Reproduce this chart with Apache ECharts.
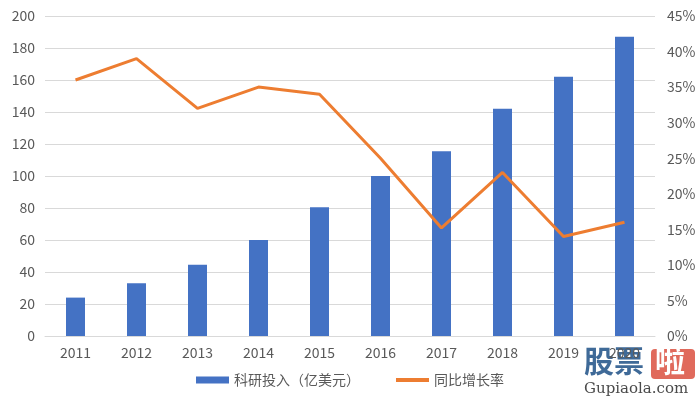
<!DOCTYPE html>
<html><head><meta charset="utf-8">
<script src="https://cdn.jsdelivr.net/npm/echarts@6/dist/echarts.min.js"></script>
<style>html,body{margin:0;padding:0;background:#fff}#c{width:700px;height:404px}</style>
</head><body><div id="c"></div>
<script>
var years = ['2011','2012','2013','2014','2015','2016','2017','2018','2019','2020'];
var investment = [24, 33, 44.5, 60, 80.5, 100, 115.5, 142, 162, 187];
var growth = [36, 39, 32, 35, 34, 25, 15.2, 23, 14, 16];
var barName = '科研投入（亿美元）';
var lineName = '同比增长率';
var font = '"Noto Sans CJK SC", "Noto Sans", sans-serif';
var chart = echarts.init(document.getElementById('c'));
chart.setOption({
  animation: false,
  textStyle: {fontFamily: font},
  grid: {left: 45, right: 45, top: 16, bottom: 68},
  legend: {
    bottom: 12, left: 'center', itemGap: 36, itemWidth: 33, itemHeight: 7,
    textStyle: {color: '#595959', fontSize: 14, fontFamily: font},
    data: [
      {name: barName, icon: 'rect'},
      {name: lineName, icon: 'path://M0,0 L33,0 L33,4 L0,4 Z', itemStyle: {color: '#ED7D31'}}
    ]
  },
  xAxis: {
    type: 'category', data: years,
    axisLine: {lineStyle: {color: '#d9d9d9'}},
    axisTick: {show: false},
    axisLabel: {color: '#595959', fontSize: 14, margin: 10}
  },
  yAxis: [{
    type: 'value', min: 0, max: 200, interval: 20,
    axisLine: {show: false}, axisTick: {show: false},
    axisLabel: {color: '#595959', fontSize: 14, margin: 10},
    splitLine: {lineStyle: {color: '#d9d9d9', width: 1}}
  }, {
    type: 'value', min: 0, max: 45, interval: 5,
    axisLine: {show: false}, axisTick: {show: false},
    axisLabel: {color: '#595959', fontSize: 14, margin: 12, formatter: '{value}%'},
    splitLine: {show: false}
  }],
  series: [{
    name: barName, type: 'bar', data: investment, barWidth: 19,
    itemStyle: {color: '#4472C4'}
  }, {
    name: lineName, type: 'line', yAxisIndex: 1, data: growth,
    symbol: 'none', lineStyle: {color: '#ED7D31', width: 3}, itemStyle: {color: '#ED7D31'}
  }],
  graphic: [
    {type: 'text', left: 584, top: 346, style: {text: '股票', fill: '#3f6a98', font: 'bold 30px ' + font}},
    {type: 'rect', left: 651, top: 349, shape: {width: 44, height: 30, r: 4}, style: {fill: '#e06a5c'}},
    {type: 'text', left: 655, top: 346, style: {text: '啦', fill: '#fff', font: 'bold 30px ' + font}},
    {type: 'text', left: 584, top: 382, style: {text: 'Gupiaola.com', fill: '#4a4a4a', font: '15px "DejaVu Serif", serif'}}
  ]
});
</script></body></html>
